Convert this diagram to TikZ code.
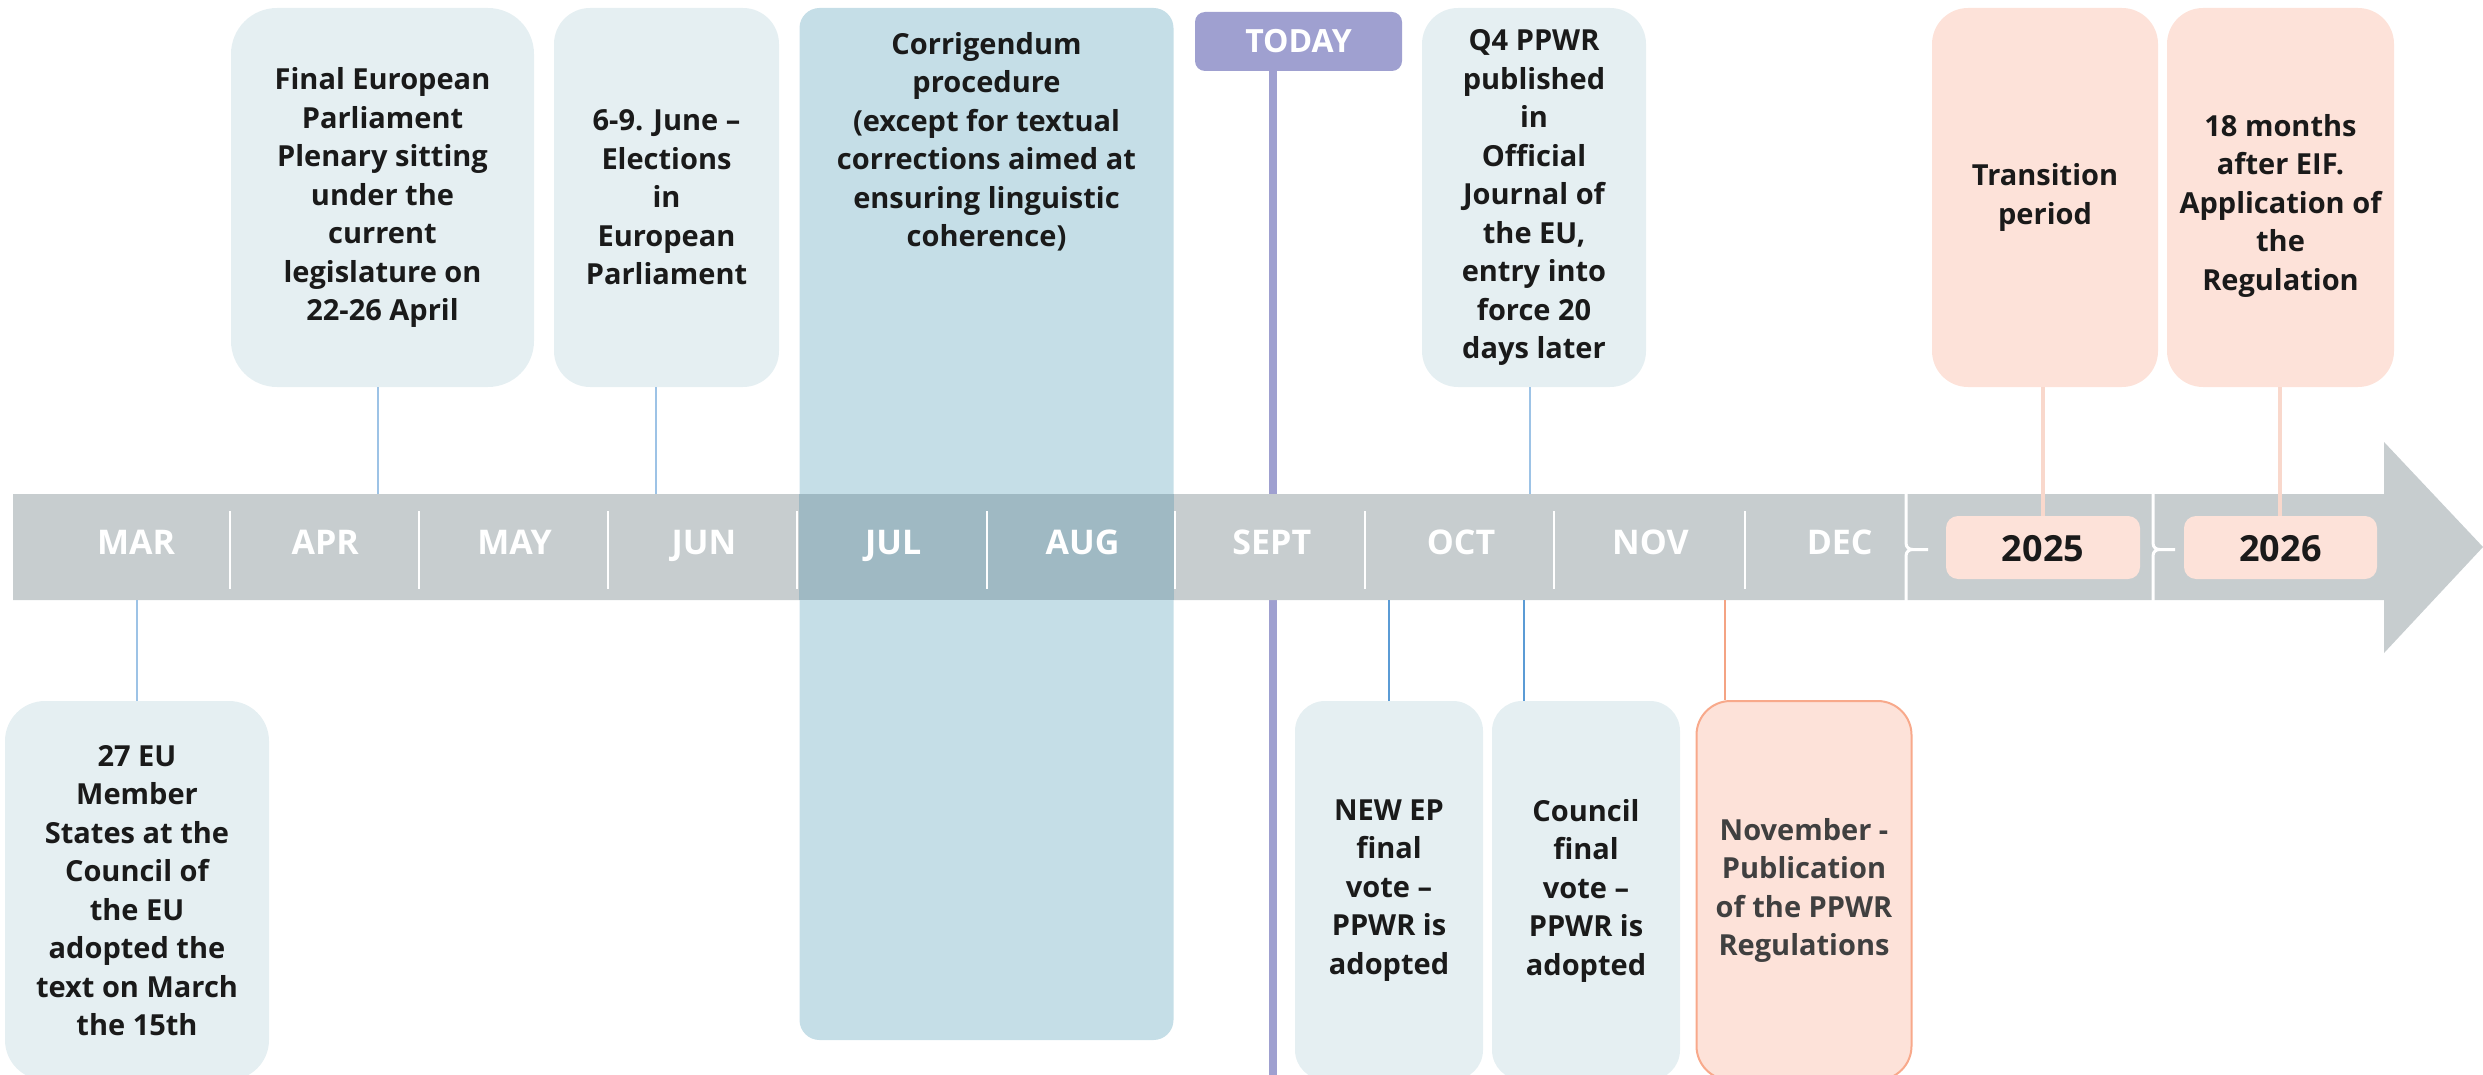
\documentclass[tikz,border=0pt]{standalone}
\usepackage{fontspec}
\setmainfont{Open Sans}
\usetikzlibrary{calc}
\definecolor{bargray}{HTML}{C7CDCF}
\definecolor{boxblue}{HTML}{E5EFF2}
\definecolor{corrblue}{HTML}{C5DEE7}
\definecolor{corrdark}{HTML}{9FB9C3}
\definecolor{todaycol}{HTML}{9FA0D0}
\definecolor{peach}{HTML}{FDE2D9}
\definecolor{peachline}{HTML}{F9D8CC}
\definecolor{orangeedge}{HTML}{F8A98B}
\definecolor{orangeline}{HTML}{F4A383}
\definecolor{lightconn}{HTML}{9DC3E6}
\definecolor{darkconn}{HTML}{5B9BD5}
\definecolor{textdark}{HTML}{1A1A1A}
\definecolor{textgray}{HTML}{404040}
\newcommand{\evfont}{\fontsize{29}{38.5}\selectfont\bfseries}
\begin{document}
\begin{tikzpicture}[x=1pt,y=-1pt,
  evbox/.style={rounded corners=#1, fill=boxblue, minimum height=379pt, inner sep=0pt, align=center, font=\evfont, text=textdark},
  evbox/.default=36pt,
  pbox/.style={evbox=#1, fill=peach},
  pbox/.default=36pt,
  yearbox/.style={rounded corners=12pt, fill=peach, minimum height=63pt, inner sep=0pt},
  yeartext/.style={font=\fontsize{36}{40}\selectfont\bfseries, text=textdark, inner sep=0pt, anchor=base},
  month/.style={text=white, font=\fontsize{34}{38}\selectfont\bfseries, inner sep=0pt, anchor=base},
  upconn/.style={lightconn, line width=2pt},
  lowconn/.style={darkconn, line width=2pt},
  peachconn/.style={peachline, line width=4pt},
  monthsep/.style={white, line width=2pt},
  yearsep/.style={white, line width=3pt, line join=round}
]
\useasboundingbox (0,0) rectangle (2483,1075);
\clip (0,0) rectangle (2483,1075);

% coordinates of the bar edges and connector positions
\coordinate (bartop) at (0,494);
\coordinate (barbot) at (0,600);
\coordinate (xFinal) at (378,0);
\coordinate (xElect) at (656,0);
\coordinate (xQfour) at (1530,0);
\coordinate (xTrans) at (2043,0);
\coordinate (xEight) at (2280,0);
\coordinate (xEU) at (137,0);
\coordinate (xNewEP) at (1389,0);
\coordinate (xCouncil) at (1524,0);
\coordinate (xNov) at (1725,0);
\coordinate (xToday) at (1273,0);
\coordinate (todayend) at (1273,1075);

% TODAY marker
\node[rounded corners=10pt, fill=todaycol, minimum width=207pt, minimum height=59pt, inner sep=0pt,
      text=white, font=\fontsize{32}{36}\selectfont\bfseries] (today) at (1298.5,41.5) {TODAY};
\draw[todaycol, line width=8pt] (today.south -| xToday) -- (todayend);

% timeline arrow
\fill[bargray] (13,494) -- (2384,494) -- (2384,442) -- (2483,547) -- (2384,653) -- (2384,600) -- (13,600) -- cycle;

% corrigendum period
\node[rounded corners=20pt, fill=corrblue, minimum width=374pt, minimum height=1032pt, inner sep=0pt] (corr) at (986.5,524) {};
\fill[corrdark] (corr.west |- bartop) rectangle (corr.east |- barbot);
\node[align=center, font=\evfont, text=textdark, inner sep=0pt] (corrtext) at (986.5,142)
  {Corrigendum\\procedure\\(except for textual\\corrections aimed at\\ensuring linguistic\\coherence)};

% month separators
\foreach \x in {230,419,608,797,987,1175,1365,1554,1745}
  \draw[monthsep] (\x,511) -- (\x,589);
% year separators
\foreach \x in {1906,2153}
  \draw[yearsep] (\x,494) -- (\x,543) .. controls (\x,547.5) and (\x+3,549.5) .. (\x+7,549.5) -- (\x+22,549.5)
                 (\x+7,549.5) .. controls (\x+3,549.5) and (\x,551.5) .. (\x,556) -- (\x,601);

% months
\foreach \m [count=\i from 0] in {MAR,APR,MAY,JUN,JUL,AUG,SEPT,OCT,NOV,DEC}
  \node[month] (m\i) at ({136+189.3*\i},554.5) {\m};

% years
\node[yearbox, minimum width=194pt] (y2025) at (2043,547.5) {};
\node[yeartext] (t2025) at (2043,561) {2025};
\node[yearbox, minimum width=193pt] (y2026) at (2280.5,547.5) {};
\node[yeartext] (t2026) at (2280.5,561) {2026};

% upper events
\node[evbox=46pt, minimum width=303pt] (final) at (382.5,197.5)
  {Final European\\Parliament\\Plenary sitting\\under the\\current\\legislature on\\22-26 April};
\node[evbox, minimum width=225pt] (elect) at (666.5,197.5)
  {6-9. June –\\Elections\\in\\European\\Parliament};
\node[evbox, minimum width=224pt] (qfour) at (1534,197.5)
  {Q4 PPWR\\published\\in\\Official\\Journal of\\the EU,\\entry into\\force 20\\days later};
\node[pbox, minimum width=226pt] (trans) at (2045,197.5) {Transition\\period};
\node[pbox, minimum width=227pt] (eight) at (2280.5,197.5)
  {\mbox{}\\18 months\\after EIF.\\Application of\\the\\Regulation};

% lower events
\node[evbox=40pt, minimum width=264pt] (eu) at (137,890.5)
  {27 EU\\Member\\States at the\\Council of\\the EU\\adopted the\\text on March\\the 15th};
\node[evbox=30pt, minimum width=188pt] (newep) at (1389,890.5)
  {NEW EP\\final\\vote –\\PPWR is\\adopted};
\node[evbox=30pt, minimum width=188pt] (council) at (1586,890.5)
  {Council\\final\\vote –\\PPWR is\\adopted};
\node[pbox=34pt, minimum width=215pt, draw=orangeedge, line width=2pt, text=textgray] (nov) at (1804,890.5)
  {November -\\Publication\\of the PPWR\\Regulations};

% connectors
\draw[upconn] (final.south -| xFinal) -- (bartop -| xFinal);
\draw[upconn] (elect.south -| xElect) -- (bartop -| xElect);
\draw[upconn] (qfour.south -| xQfour) -- (bartop -| xQfour);
\draw[peachconn] (trans.south -| xTrans) -- (y2025.north -| xTrans);
\draw[peachconn] (eight.south -| xEight) -- (y2026.north -| xEight);
\draw[upconn] (barbot -| xEU) -- (eu.north -| xEU);
\draw[lowconn] (barbot -| xNewEP) -- (newep.north -| xNewEP);
\draw[lowconn] (barbot -| xCouncil) -- (council.north -| xCouncil);
\draw[orangeline, line width=2pt] (barbot -| xNov) -- (nov.north -| xNov);
\end{tikzpicture}
\end{document}
